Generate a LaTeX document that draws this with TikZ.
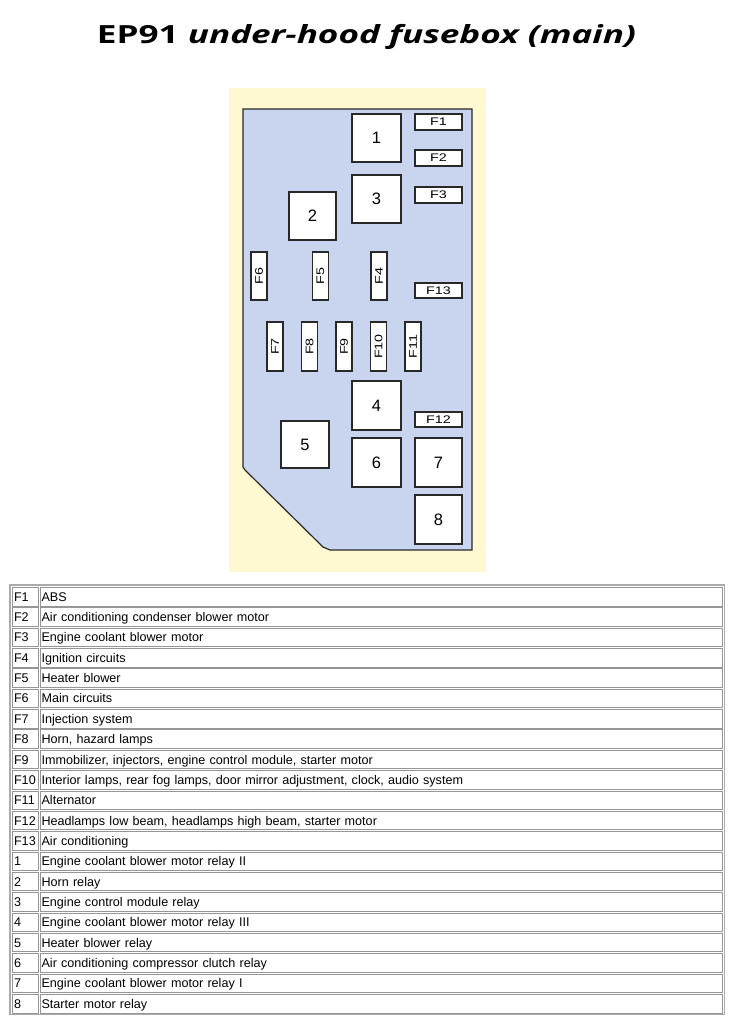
\documentclass[tikz,border=0pt]{standalone}
\usepackage{fontspec}
\setmainfont{Liberation Sans}
\newfontfamily\titlefont{Open Sans}
\definecolor{boxblue}{RGB}{201,213,239}
\definecolor{bgyellow}{RGB}{255,249,210}
\definecolor{edgecol}{RGB}{40,40,40}
\definecolor{cellgray}{RGB}{150,150,150}
\newcommand{\fl}[1]{\scalebox{1.3}[1]{#1}}
\begin{document}
\begin{tikzpicture}[x=1pt,y=-1pt,
  relay/.style={draw=edgecol, fill=white, line width=1.1pt, inner sep=0pt,
    font=\fontsize{16.5}{17}\selectfont},
  fuseh/.style={draw=edgecol, fill=white, line width=1.1pt, inner sep=0pt,
    minimum width=47pt, minimum height=16pt, font=\fontsize{11}{12}\selectfont},
  fusev/.style={draw=edgecol, fill=white, line width=1.1pt, inner sep=0pt,
    minimum width=16pt, minimum height=48pt, font=\fontsize{11}{12}\selectfont},
  cell/.style={draw=cellgray, line width=0.9pt, anchor=north west, inner ysep=0pt,
    minimum height=18.5pt, text height=11pt, text depth=2pt, align=left,
    font=\fontsize{12.6}{13}\selectfont},
  kcell/.style={cell, inner xsep=1.6pt, text width=22.8pt},
  dcell/.style={cell, inner xsep=1.6pt, text width=678.8pt}
]
\useasboundingbox (0,0) rectangle (736,1023);
\fill[white] (0,0) rectangle (736,1023);

% title
\node[anchor=base, font=\titlefont\bfseries\fontsize{25}{28}\selectfont] (title) at (366.5,43.5)
  {\resizebox{539pt}{\height}{EP91 \itshape under-hood fusebox (main)}};

% background and box outline
\fill[bgyellow] (229,88) rectangle (486,572);
\filldraw[fill=boxblue, draw=edgecol, line width=1.2pt]
  (243,109) -- (472,109) -- (472,550) -- (330,550) -- (323,547) -- (245,470) -- (243,467) -- cycle;

% relays
\node[relay, minimum width=49pt, minimum height=48pt] (r1) at (376.5,138) {1};
\node[relay, minimum width=47pt, minimum height=48pt] (r2) at (312.5,216) {2};
\node[relay, minimum width=49pt, minimum height=48pt] (r3) at (376.5,199) {3};
\node[relay, minimum width=49pt, minimum height=49pt] (r4) at (376.5,405.5) {4};
\node[relay, minimum width=48pt, minimum height=47pt] (r5) at (305,444.5) {5};
\node[relay, minimum width=49pt, minimum height=49pt] (r6) at (376.5,462.5) {6};
\node[relay, minimum width=47pt, minimum height=49pt] (r7) at (438.5,462.5) {7};
\node[relay, minimum width=47pt, minimum height=49pt] (r8) at (438.5,519.5) {8};

% horizontal fuses
\node[fuseh] (f1) at (438.5,122) {\fl{F1}};
\node[fuseh] (f2) at (438.5,158) {\fl{F2}};
\node[fuseh] (f3) at (438.5,195) {\fl{F3}};
\node[fuseh, minimum height=15pt] (f13) at (438.5,290.5) {\fl{F13}};
\node[fuseh, minimum height=15pt] (f12) at (438.5,419.5) {\fl{F12}};

% vertical fuses
\node[fusev] (f6) at (259,276) {\rotatebox{90}{\fl{F6}}};
\node[fusev] (f5) at (320.5,276) {\rotatebox{90}{\fl{F5}}};
\node[fusev] (f4) at (379,276) {\rotatebox{90}{\fl{F4}}};
\node[fusev, minimum height=49pt] (f7) at (275,346.5) {\rotatebox{90}{\fl{F7}}};
\node[fusev, minimum height=49pt] (f8) at (309.5,346.5) {\rotatebox{90}{\fl{F8}}};
\node[fusev, minimum height=49pt] (f9) at (344,346.5) {\rotatebox{90}{\fl{F9}}};
\node[fusev, minimum height=49pt] (f10) at (378.5,346.5) {\rotatebox{90}{\fl{F10}}};
\node[fusev, minimum height=49pt] (f11) at (413,346.5) {\rotatebox{90}{\fl{F11}}};

% table
\draw[cellgray!80, line width=1.3pt] (10,585) rectangle (724.5,1014.5);
\foreach \k/\d [count=\i from 0] in {
  F1/ABS,
  F2/Air conditioning condenser blower motor,
  F3/Engine coolant blower motor,
  F4/Ignition circuits,
  F5/Heater blower,
  F6/Main circuits,
  F7/Injection system,
  F8/{Horn, hazard lamps},
  F9/{Immobilizer, injectors, engine control module, starter motor},
  F10/{Interior lamps, rear fog lamps, door mirror adjustment, clock, audio system},
  F11/Alternator,
  F12/{Headlamps low beam, headlamps high beam, starter motor},
  F13/Air conditioning,
  1/Engine coolant blower motor relay II,
  2/Horn relay,
  3/Engine control module relay,
  4/Engine coolant blower motor relay III,
  5/Heater blower relay,
  6/Air conditioning compressor clutch relay,
  7/Engine coolant blower motor relay I,
  8/Starter motor relay}
{
  \node[kcell] (k\i) at (12,{587+20.35*\i}) {\k};
  \node[dcell] (d\i) at (39.5,{587+20.35*\i}) {\d};
}
\end{tikzpicture}
\end{document}
